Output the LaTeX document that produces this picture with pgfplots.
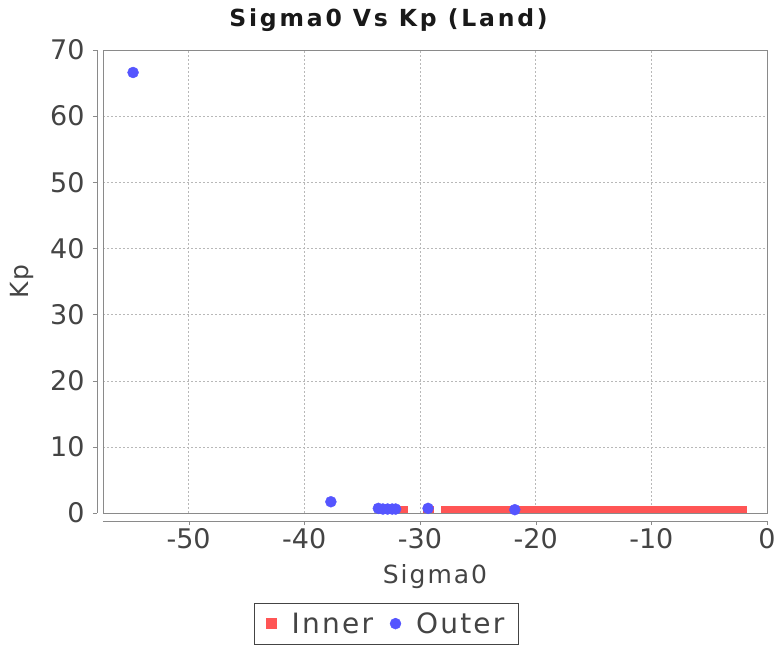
\documentclass[border=0pt]{standalone}
\usepackage{pgfplots}
\pgfplotsset{compat=1.18}
\usepackage{fontspec}
\setmainfont{DejaVu Sans}
\newfontfamily\lblfont{DejaVu Sans}[LetterSpace=8]
\newfontfamily\ttlfont{DejaVu Sans Bold}[LetterSpace=12]
\definecolor{innerred}{HTML}{FF5555}
\definecolor{outerblue}{HTML}{5555FF}
\definecolor{gridgray}{HTML}{B8B8B8}
\definecolor{framegray}{HTML}{8A8A8A}
\definecolor{txtgray}{HTML}{444444}
\begin{document}
\begin{tikzpicture}
\begin{axis}[
	scale only axis,
	width=664pt, height=463pt,
	xmin=-57.4, xmax=0,
	ymin=0, ymax=70,
	xtick={-50,-40,...,0},
	xticklabels={-50,-40,-30,-20,-10,0},
	ytick={0,10,...,70},
	grid=major,
	grid style={gridgray, dash pattern=on 2pt off 2pt},
	axis line style={framegray},
	tick pos=left,
	tick align=outside,
	major tick length=4pt,
	xtick style={framegray, yshift=-8pt},
	ytick style={framegray, xshift=-6pt},
	xticklabel style={yshift=-8pt},
	yticklabel style={xshift=-11pt},
	clip=false,
	/pgf/number format/assume math mode=true,
	ticklabel style={font=\fontsize{27}{30}\selectfont, text=txtgray},
	xlabel={Sigma0}, ylabel={Kp},
	label style={font=\lblfont\fontsize{25}{30}\selectfont, text=txtgray},
	xlabel style={at={(axis description cs:0.5,-0.138)}, anchor=center},
	ylabel style={at={(axis description cs:-0.122,0.5)}, anchor=center},
	title={Sigma0 Vs Kp (Land)},
	title style={font=\ttlfont\fontsize{23.5}{27}\selectfont, text=black!90,
		at={(axis description cs:0.43,1)}, anchor=base, yshift=18pt},
	legend style={at={(axis description cs:0.427,-0.195)}, anchor=north, legend columns=2,
		font=\lblfont\fontsize{28}{32}\selectfont, text=txtgray, draw=txtgray,
		inner xsep=12pt, inner ysep=7pt,
		/tikz/every odd column/.append style={column sep=13pt},
		/tikz/every even column/.append style={column sep=15pt}},
	legend cell align=left,
]
\addplot[only marks, mark=square*, mark size=3pt, color=innerred, forget plot] coordinates {
	(-31.7,0.5) (-31.4,0.5)
	(-29.5,0.5) (-29.1,0.5)
	(-27.9,0.5) (-27.4,0.5) (-26.9,0.5) (-26.4,0.5) (-25.9,0.5) (-25.4,0.5)
	(-24.9,0.5) (-24.4,0.5) (-23.9,0.5) (-23.4,0.5) (-22.9,0.5) (-22.4,0.5)
	(-21.9,0.5) (-21.4,0.5) (-20.9,0.5) (-20.4,0.5) (-19.9,0.5) (-19.4,0.5)
	(-18.9,0.5) (-18.4,0.5) (-17.9,0.5) (-17.4,0.5) (-16.9,0.5) (-16.4,0.5)
	(-15.9,0.5) (-15.4,0.5) (-14.9,0.5) (-14.4,0.5) (-13.9,0.5) (-13.4,0.5)
	(-12.9,0.5) (-12.4,0.5) (-11.9,0.5) (-11.4,0.5) (-10.9,0.5) (-10.4,0.5)
	(-9.9,0.5) (-9.4,0.5) (-8.9,0.5) (-8.4,0.5) (-7.9,0.5) (-7.4,0.5)
	(-6.9,0.5) (-6.4,0.5) (-5.9,0.5) (-5.4,0.5) (-4.9,0.5) (-4.4,0.5)
	(-3.9,0.5) (-3.4,0.5) (-2.9,0.5) (-2.4,0.5) (-2.1,0.5)
};
\addplot[only marks, mark=*, mark size=5.5pt, color=outerblue, forget plot] coordinates {
	(-54.8,66.6) (-37.7,1.7)
	(-33.6,0.7) (-33.2,0.6) (-32.8,0.6) (-32.4,0.6) (-32.1,0.6)
	(-29.3,0.7) (-21.8,0.5)
};
\addlegendimage{only marks, mark=square*, mark size=5pt, color=innerred}
\addlegendentry{Inner}
\addlegendimage{only marks, mark=*, mark size=5.5pt, color=outerblue}
\addlegendentry{Outer}
\draw[framegray] ([xshift=-6pt]rel axis cs:0,0) -- ([xshift=-6pt]rel axis cs:0,1);
\draw[framegray] ([yshift=-8pt]rel axis cs:0,0) -- ([yshift=-8pt]rel axis cs:1,0);
% fix the page to the reference frame around the plot area
\path ([xshift=-103pt, yshift=-132pt]rel axis cs:0,0) ([xshift=13pt, yshift=50pt]rel axis cs:1,1);
\end{axis}
\end{tikzpicture}
\end{document}
